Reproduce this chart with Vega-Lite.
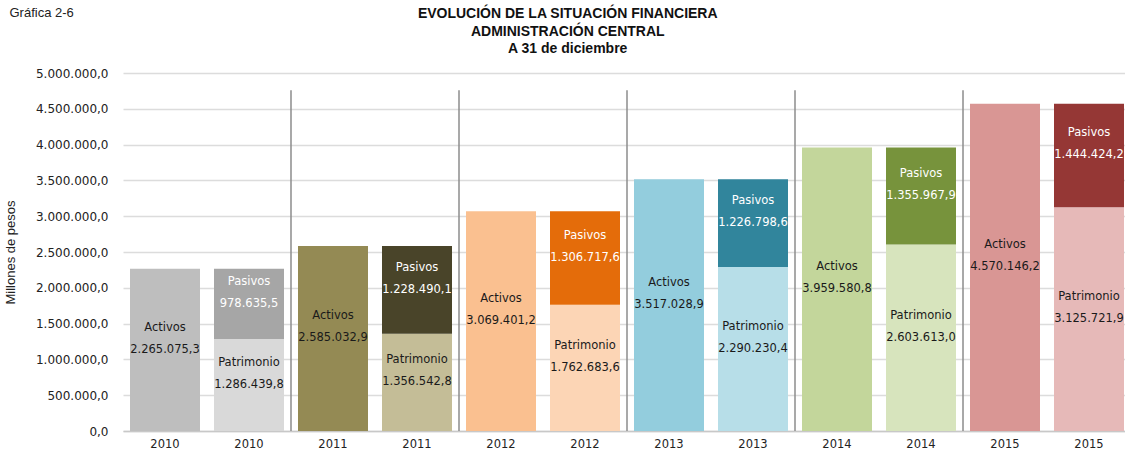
{
  "$schema": "https://vega.github.io/schema/vega-lite/v6.json",
  "padding": {"left": 4, "top": 7, "right": 0, "bottom": 4},
  "config": {
    "locale": {"number": {"decimal": ",", "thousands": ".", "grouping": [3], "currency": ["$", ""]}},
    "view": {"stroke": null},
    "font": "Liberation Sans",
    "axisY": {
      "titleFont": "Liberation Sans", "titleFontSize": 13, "titleFontWeight": "normal",
      "titleColor": "#222222", "titlePadding": 18,
      "labelOverlap": false, "labelFont": "DejaVu Sans", "labelFontSize": 12, "labelColor": "#222222",
      "labelPadding": 15, "ticks": false, "domain": false,
      "gridColor": "#dcdcdc", "gridWidth": 1.5
    }
  },
  "title": {"text": "Gráfica 2-6", "anchor": "start", "frame": "bounds", "fontSize": 13, "fontWeight": "normal", "font": "Liberation Sans", "color": "#222222", "offset": -13, "dx": 5},
  "vconcat": [
    {
      "width": 1001,
      "height": 358,
      "title": {
        "text": ["EVOLUCIÓN DE LA SITUACIÓN  FINANCIERA", "ADMINISTRACIÓN  CENTRAL", "A 31 de diciembre"],
        "anchor": "middle", "frame": "bounds", "font": "Liberation Sans", "fontSize": 14, "fontWeight": "bold",
        "lineHeight": 17.5, "color": "#111111", "offset": 11
      },
      "data": {"values": [
        {"year": "2010", "slot": "2010 A", "seg": "Activos", "key": "2010 Activos", "value": 2265075.3},
        {"year": "2010", "slot": "2010 B", "seg": "Patrimonio", "key": "2010 Patrimonio", "value": 1286439.8},
        {"year": "2010", "slot": "2010 B", "seg": "Pasivos", "key": "2010 Pasivos", "value": 978635.5},
        {"year": "2011", "slot": "2011 A", "seg": "Activos", "key": "2011 Activos", "value": 2585032.9},
        {"year": "2011", "slot": "2011 B", "seg": "Patrimonio", "key": "2011 Patrimonio", "value": 1356542.8},
        {"year": "2011", "slot": "2011 B", "seg": "Pasivos", "key": "2011 Pasivos", "value": 1228490.1},
        {"year": "2012", "slot": "2012 A", "seg": "Activos", "key": "2012 Activos", "value": 3069401.2},
        {"year": "2012", "slot": "2012 B", "seg": "Patrimonio", "key": "2012 Patrimonio", "value": 1762683.6},
        {"year": "2012", "slot": "2012 B", "seg": "Pasivos", "key": "2012 Pasivos", "value": 1306717.6},
        {"year": "2013", "slot": "2013 A", "seg": "Activos", "key": "2013 Activos", "value": 3517028.9},
        {"year": "2013", "slot": "2013 B", "seg": "Patrimonio", "key": "2013 Patrimonio", "value": 2290230.4},
        {"year": "2013", "slot": "2013 B", "seg": "Pasivos", "key": "2013 Pasivos", "value": 1226798.6},
        {"year": "2014", "slot": "2014 A", "seg": "Activos", "key": "2014 Activos", "value": 3959580.8},
        {"year": "2014", "slot": "2014 B", "seg": "Patrimonio", "key": "2014 Patrimonio", "value": 2603613.0},
        {"year": "2014", "slot": "2014 B", "seg": "Pasivos", "key": "2014 Pasivos", "value": 1355967.9},
        {"year": "2015", "slot": "2015 A", "seg": "Activos", "key": "2015 Activos", "value": 4570146.2},
        {"year": "2015", "slot": "2015 B", "seg": "Patrimonio", "key": "2015 Patrimonio", "value": 3125721.9},
        {"year": "2015", "slot": "2015 B", "seg": "Pasivos", "key": "2015 Pasivos", "value": 1444424.2}
      ]},
      "transform": [
        {"stack": "value", "groupby": ["slot"], "sort": [{"field": "seg", "order": "descending"}], "as": ["v0", "v1"]},
        {"calculate": "(datum.v0 + datum.v1) / 2", "as": "mid"}
      ],
      "encoding": {
        "x": {
          "field": "slot", "type": "ordinal",
          "scale": {"range": [0, 1008], "paddingInner": 0.1667, "paddingOuter": 0.0833},
          "axis": {
            "title": null, "labelAngle": 0, "labelExpr": "slice(datum.value, 0, 4)",
            "labelFont": "DejaVu Sans", "labelFontSize": 11.5, "labelColor": "#222222", "labelPadding": 7,
            "ticks": false, "domainColor": "#c8c8c8", "domainWidth": 1.5
          }
        }
      },
      "layer": [
        {
          "mark": {"type": "bar", "clip": true},
          "encoding": {
            "y": {
              "field": "v0", "type": "quantitative",
              "scale": {"domain": [0, 5000000], "nice": false},
              "axis": {"title": "Millones de pesos", "format": ",.1f", "tickCount": 11,
                       "values": [0, 500000, 1000000, 1500000, 2000000, 2500000, 3000000, 3500000, 4000000, 4500000, 5000000]}
            },
            "y2": {"field": "v1"},
            "color": {
              "field": "key", "type": "nominal", "legend": null,
              "scale": {
                "domain": ["2010 Activos", "2010 Patrimonio", "2010 Pasivos",
                           "2011 Activos", "2011 Patrimonio", "2011 Pasivos",
                           "2012 Activos", "2012 Patrimonio", "2012 Pasivos",
                           "2013 Activos", "2013 Patrimonio", "2013 Pasivos",
                           "2014 Activos", "2014 Patrimonio", "2014 Pasivos",
                           "2015 Activos", "2015 Patrimonio", "2015 Pasivos"],
                "range": ["#bebebe", "#d9d9d9", "#a6a6a6",
                          "#948a54", "#c4bd97", "#494429",
                          "#fac090", "#fcd5b5", "#e46c0a",
                          "#93cddd", "#b7dee8", "#31859c",
                          "#c3d69b", "#d7e4bd", "#77933c",
                          "#d99694", "#e6b9b8", "#953735"]
              }
            }
          }
        },
        {
          "data": {"values": [{"slot": "2011 A"}, {"slot": "2012 A"}, {"slot": "2013 A"}, {"slot": "2014 A"}, {"slot": "2015 A"}]},
          "transform": [],
          "mark": {"type": "rule", "color": "#8c8c8c", "strokeWidth": 1.5, "xOffset": -7},
          "encoding": {
            "x": {"field": "slot", "type": "ordinal", "bandPosition": 0},
            "y": {"datum": 4760000, "type": "quantitative",
                  "axis": {"title": "Millones de pesos", "format": ",.1f", "tickCount": 11,
                           "values": [0, 500000, 1000000, 1500000, 2000000, 2500000, 3000000, 3500000, 4000000, 4500000, 5000000]}},
            "y2": {"datum": 0}
          }
        },
        {
          "mark": {"type": "text", "clip": true, "font": "DejaVu Sans", "fontSize": 11.5, "baseline": "middle", "dy": -22},
          "encoding": {
            "y": {"field": "mid", "type": "quantitative",
                  "axis": {"title": "Millones de pesos", "format": ",.1f", "tickCount": 11,
                           "values": [0, 500000, 1000000, 1500000, 2000000, 2500000, 3000000, 3500000, 4000000, 4500000, 5000000]}},
            "text": {"field": "seg", "type": "nominal"},
            "color": {"condition": {"test": "datum.seg === 'Pasivos'", "value": "#ffffff"}, "value": "#1a1a1a"}
          }
        },
        {
          "mark": {"type": "text", "clip": true, "font": "DejaVu Sans", "fontSize": 11.5, "baseline": "middle"},
          "encoding": {
            "y": {"field": "mid", "type": "quantitative",
                  "axis": {"title": "Millones de pesos", "format": ",.1f", "tickCount": 11,
                           "values": [0, 500000, 1000000, 1500000, 2000000, 2500000, 3000000, 3500000, 4000000, 4500000, 5000000]}},
            "text": {"field": "value", "type": "quantitative", "format": ",.1f"},
            "color": {"condition": {"test": "datum.seg === 'Pasivos'", "value": "#ffffff"}, "value": "#1a1a1a"}
          }
        }
      ]
    }
  ]
}
